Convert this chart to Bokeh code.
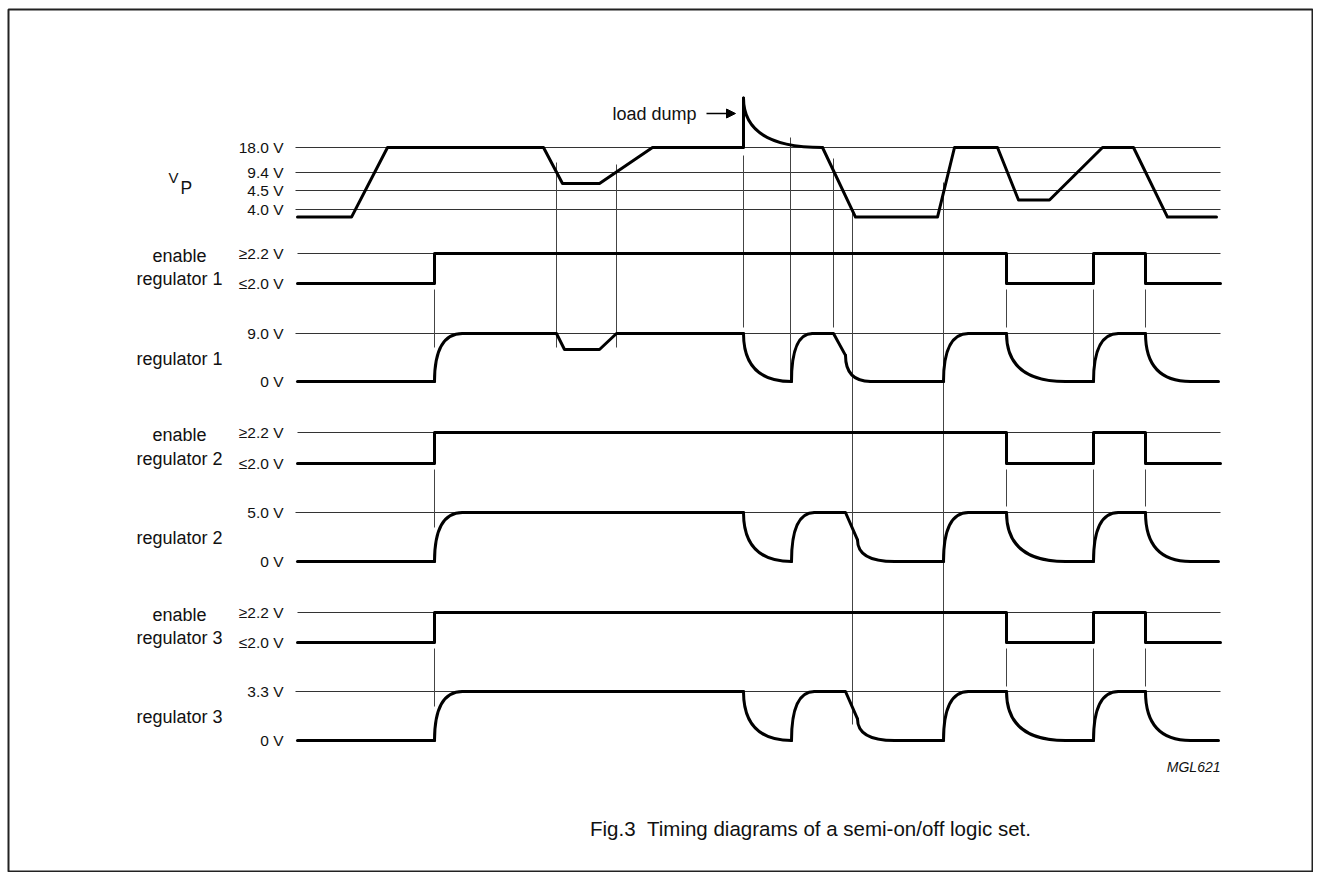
import numpy as np
from bokeh.plotting import figure
from bokeh.models import Range1d, Arrow, NormalHead, ColumnDataSource
from bokeh.core.properties import value
from bokeh.embed import file_html
from bokeh.resources import INLINE

# ---------------------------------------------------------------- data
# common time axis (arbitrary units); levels in volts / logic state
# segment kinds: "L" = straight edge, "C" = RC-type curve
vp_t = [297, 351, 387, 543, 562, 599, 652, 743, 743, 822, 855, 937, 954,
        997, 1018, 1049, 1102, 1133, 1167, 1216]
vp_v = [3.8, 3.8, 18.0, 18.0, 6.4, 6.4, 18.0, 18.0, 35.0, 18.0, 3.8, 3.8, 18.0,
        18.0, 4.25, 4.25, 18.0, 18.0, 3.8, 3.8]
vp_kind = "LLLLLLLLCLLLLLLLLLL"
load_dump_t = 743

enable_t = [297, 434, 434, 1006, 1006, 1093, 1093, 1145, 1145, 1220]
enable1_v = [0, 0, 1, 1, 0, 0, 1, 1, 0, 0]
enable2_v = [0, 0, 1, 1, 0, 0, 1, 1, 0, 0]
enable3_v = [0, 0, 1, 1, 0, 0, 1, 1, 0, 0]

reg1_t = [297, 434, 462, 556, 564, 599, 616, 743, 791, 812, 833, 845, 870,
          943, 968, 1006, 1065, 1093, 1118, 1145, 1190, 1218]
reg1_v = [0, 0, 9.0, 9.0, 6.0, 6.0, 9.0, 9.0, 0, 9.0, 9.0, 4.9, 0,
          0, 9.0, 9.0, 0, 0, 9.0, 9.0, 0, 0]
reg1_kind = "LCLLLLLCCLLCLCLCLCLCL"

reg2_t = [297, 434, 462, 743, 791, 814, 845, 857, 894, 943, 968, 1006, 1065,
          1093, 1118, 1145, 1190, 1218]
reg2_v = [0, 0, 5.0, 5.0, 0, 5.0, 5.0, 2.2, 0, 0, 5.0, 5.0, 0,
          0, 5.0, 5.0, 0, 0]
reg2_kind = "LCLCCLLCLCLCLCLCL"

reg3_t = [297, 434, 462, 743, 791, 814, 845, 857, 894, 943, 968, 1006, 1065,
          1093, 1118, 1145, 1190, 1218]
reg3_v = [0, 0, 3.3, 3.3, 0, 3.3, 3.3, 1.45, 0, 0, 3.3, 3.3, 0,
          0, 3.3, 3.3, 0, 0]
reg3_kind = "LCLCCLLCLCLCLCLCL"

vp_grid_v = [18.0, 9.4, 4.5, 4.0]
vp_grid_lbl = ["18.0 V", "9.4 V", "4.5 V", "4.0 V"]
enable_lbl = ["\u22652.2 V", "\u22642.0 V"]
reg_high_v = [9.0, 5.0, 3.3]
reg_high_lbl = ["9.0 V", "5.0 V", "3.3 V"]
reg_low_lbl = "0 V"
row_names = ["regulator 1", "regulator 2", "regulator 3"]

# event instants marked by thin vertical lines
event_t = [434, 556, 616, 743, 790, 833, 852, 943, 1006, 1093, 1145]

# ---------------------------------------------------------------- layout
FONT = value("Liberation Sans")
GRID_X0, GRID_X1 = 295, 1220
TICK_X = 283
NAME_X = 179
vp_grid_y = [147, 172, 190, 209]
en_rows = [(253, 283), (432, 463), (612, 642)]    # (high y, low y)
reg_rows = [(333, 381), (512, 561), (691, 740)]   # (high y, low y)
event_spans = {
    434: [(289, 347), (469, 527), (648, 706)],
    556: [(162, 347)],
    616: [(164, 347)],
    743: [(155, 327)],
    790: [(137, 380)],
    833: [(158, 327)],
    852: [(210, 724)],
    943: [(182, 735)],
    1006: [(289, 327), (469, 506), (648, 686)],
    1093: [(289, 378), (469, 556), (648, 735)],
    1145: [(289, 327), (469, 506), (648, 686)],
}

p = figure(width=1313, height=872, x_range=Range1d(8, 1312), y_range=Range1d(871, 9),
           output_backend="svg", toolbar_location=None,
           x_axis_type=None, y_axis_type=None,
           min_border_left=8, min_border_right=1, min_border_top=9, min_border_bottom=1)
p.outline_line_color = "#222222"
p.outline_line_width = 2
p.background_fill_color = "white"
p.border_fill_color = "white"


def vp_map(v):
    v = np.asarray(v, dtype=float)
    xs = np.array(vp_grid_v[::-1])
    ys = np.array(vp_grid_y[::-1], dtype=float)
    y = np.interp(v, xs, ys)
    lo = v < xs[0]
    hi = v > xs[-1]
    y[lo] = ys[0] + (v[lo] - xs[0]) * (ys[1] - ys[0]) / (xs[1] - xs[0])
    y[hi] = ys[-1] + (v[hi] - xs[-1]) * (ys[-1] - ys[-2]) / (xs[-1] - xs[-2])
    return y


def lin_map(v, vhigh, row):
    hy, ly = row
    return ly + (np.asarray(v, dtype=float) / vhigh) * (hy - ly)


def draw_trace(t, y, kinds):
    t = list(t)
    y = list(y)
    runs_x, runs_y = [], []
    cx_, cy_ = [], []
    q = dict(x0=[], y0=[], x1=[], y1=[], cx=[], cy=[])
    for i, k in enumerate(kinds):
        if k == "L":
            if not cx_:
                cx_, cy_ = [t[i]], [y[i]]
            cx_.append(t[i + 1])
            cy_.append(y[i + 1])
        else:
            if len(cx_) > 1:
                runs_x.append(cx_)
                runs_y.append(cy_)
            cx_, cy_ = [], []
            q["x0"].append(t[i]); q["y0"].append(y[i])
            q["x1"].append(t[i + 1]); q["y1"].append(y[i + 1])
            q["cx"].append(t[i]); q["cy"].append(y[i + 1])
    if len(cx_) > 1:
        runs_x.append(cx_)
        runs_y.append(cy_)
    p.multi_line(runs_x, runs_y, line_color="black", line_width=3,
                 line_join="round", line_cap="round")
    if q["x0"]:
        p.quadratic(x0="x0", y0="y0", x1="x1", y1="y1", cx="cx", cy="cy",
                    source=ColumnDataSource(q), line_color="black", line_width=3,
                    line_cap="round")


# thin reference lines
gx, gy = [], []
for yy in vp_grid_y:
    gx.append([GRID_X0, GRID_X1]); gy.append([yy, yy])
for (hy, ly) in en_rows:
    gx.append([GRID_X0 + 2, GRID_X1]); gy.append([hy, hy])
for (hy, ly) in reg_rows:
    gx.append([GRID_X0, GRID_X1]); gy.append([hy, hy])
p.multi_line(gx, gy, line_color="#333333", line_width=1)

# event markers
mx, my = [], []
for tt in event_t:
    for (a, b) in event_spans[tt]:
        mx.append([tt, tt]); my.append([a, b])
p.multi_line(mx, my, line_color="#444444", line_width=1)

# traces
draw_trace(vp_t, vp_map(vp_v), vp_kind)
for ev, row in zip([enable1_v, enable2_v, enable3_v], en_rows):
    draw_trace(enable_t, lin_map(ev, 1.0, row), "L" * (len(enable_t) - 1))
for (rt, rv, rk), vh, row in zip([(reg1_t, reg1_v, reg1_kind), (reg2_t, reg2_v, reg2_kind),
                                  (reg3_t, reg3_v, reg3_kind)], reg_high_v, reg_rows):
    draw_trace(rt, lin_map(rv, vh, row), rk)

# tick labels
tx, ty, tl = [], [], []
for yy, lb in zip(vp_grid_y, vp_grid_lbl):
    tx.append(TICK_X); ty.append(yy); tl.append(lb)
for (hy, ly) in en_rows:
    tx += [TICK_X, TICK_X]; ty += [hy, ly]; tl += enable_lbl
for (hy, ly), lb in zip(reg_rows, reg_high_lbl):
    tx += [TICK_X, TICK_X]; ty += [hy, ly]; tl += [lb, reg_low_lbl]
p.text(x=tx, y=ty, text=tl, text_align="right", text_baseline="middle",
       text_font=FONT, text_font_size="15.5px", text_color="#111111")

# row names
nx, ny, nl = [], [], []
for (hy, ly), nm in zip(en_rows, row_names):
    nx += [NAME_X, NAME_X]; ny += [hy + 2, ly - 5]; nl += ["enable", nm]
for (hy, ly), nm in zip(reg_rows, row_names):
    nx.append(NAME_X); ny.append((hy + ly) / 2 + 1); nl.append(nm)
p.text(x=nx, y=ny, text=nl, text_align="center", text_baseline="middle",
       text_font=FONT, text_font_size="18px", text_color="#111111")

# V_P label
p.text(x=[168], y=[177], text=["V"], text_align="left", text_baseline="middle",
       text_font=FONT, text_font_size="15px", text_color="#111111")
p.text(x=[180], y=[187], text=["P"], text_align="left", text_baseline="middle",
       text_font=FONT, text_font_size="17.5px", text_color="#111111")

# load dump annotation
p.text(x=[696], y=[113], text=["load dump"], text_align="right", text_baseline="middle",
       text_font=FONT, text_font_size="18px", text_color="#111111")
p.add_layout(Arrow(end=NormalHead(size=9, fill_color="black", line_color="black"),
                   x_start=706, y_start=113, x_end=load_dump_t - 8, y_end=113,
                   line_width=1.5, line_color="black"))

# figure code and caption
p.text(x=[1220], y=[766], text=["MGL621"], text_align="right", text_baseline="middle",
       text_font=FONT, text_font_size="14px", text_font_style="italic", text_color="#111111")
p.text(x=[810], y=[828], text=["Fig.3\u00a0\u00a0Timing diagrams of a semi-on/off logic set."],
       text_align="center", text_baseline="middle",
       text_font=FONT, text_font_size="20.5px", text_color="#111111")

open("out.html", "w").write(file_html(p, INLINE))
